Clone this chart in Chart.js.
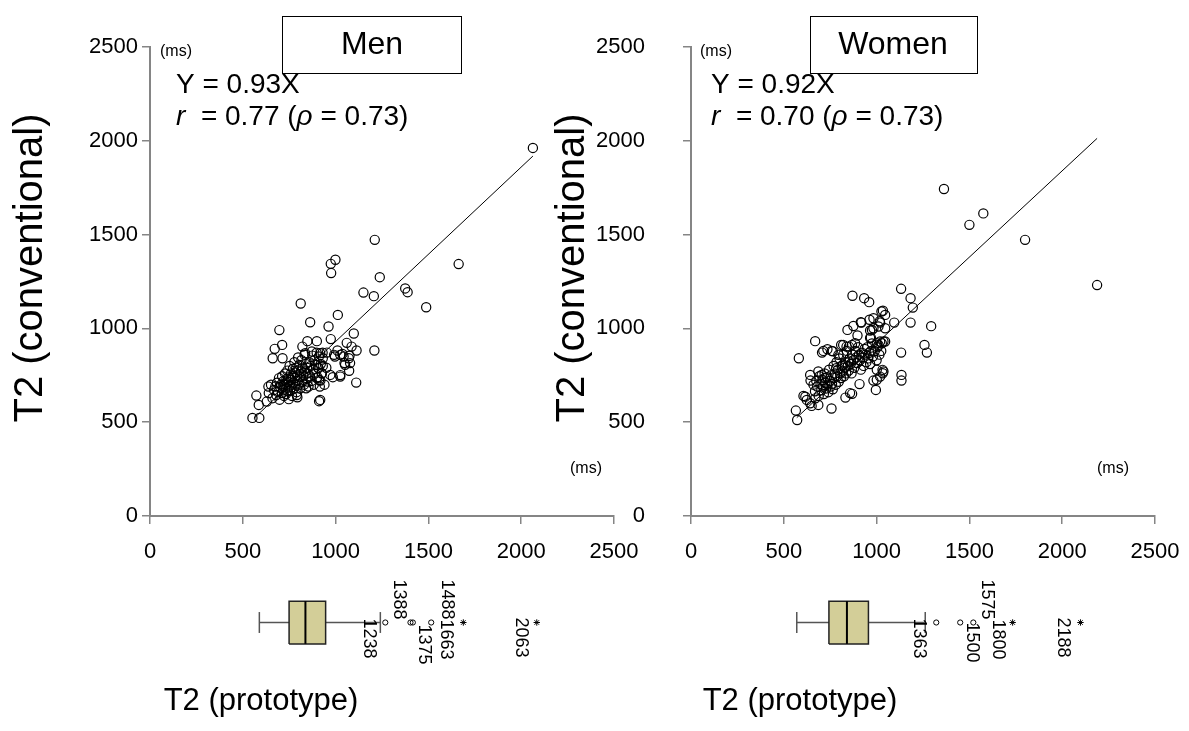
<!DOCTYPE html>
<html>
<head>
<meta charset="utf-8">
<title>T2 prototype vs conventional</title>
<script src="https://cdn.jsdelivr.net/npm/chart.js@4.4.1/dist/chart.umd.min.js"></script>
<style>
  body { margin: 0; background: #fff; }
  #page { position: relative; width: 1189px; height: 731px; overflow: hidden; background: #fff; }
  canvas { position: absolute; }
</style>
</head>
<body>
<div id="page">
  <canvas id="menScatter" width="640" height="580" style="left:0px;top:0px"></canvas>
  <canvas id="womenScatter" width="640" height="580" style="left:540px;top:0px"></canvas>
  <canvas id="menBox" width="469" height="160" style="left:153px;top:570px"></canvas>
  <canvas id="womenBox" width="447" height="160" style="left:693px;top:570px"></canvas>
</div>
<script>
// ---- data (ms) ----
var axisTicks = [0, 500, 1000, 1500, 2000, 2500];

// [prototype, conventional]
var menPoints = [
  [2063,1962],[1211,1472],[999,1366],[974,1344],[976,1295],[1238,1273],[1663,1343],[1375,1213],
  [1388,1193],[1150,1191],[1206,1172],[1488,1113],[812,1133],[863,1033],[1012,1072],[962,1010],
  [697,991],[1098,973],[974,943],[712,912],[672,891],[848,932],[899,932],[821,903],[1060,923],
  [1086,903],[1113,882],[1209,882],[1010,882],[1037,864],[1071,841],[1075,854],[996,850],[953,871],
  [661,841],[714,841],[1048,815],[1073,774],[971,752],[985,740],[1025,751],[1111,711],[911,612],
  [573,642],[586,592],[552,523],[589,523],[794,633],[748,623],[638,690],[931,800],[931,841],
  [918,722],[911,725],[848,717],[841,681],[791,645],
  [836,868],[872,877],[917,868],[992,859],[1025,859],[1043,850],[1051,806],[1078,815],[1025,743],
  [917,619],[629,610],[899,735],[926,761],[908,788],
  [640,655],[652,700],[660,628],[668,672],[675,690],[680,645],[684,710],[690,660],[695,735],[698,620],
  [702,685],[706,700],[710,655],[712,745],[715,690],[718,670],[720,720],[722,640],[725,705],[728,760],
  [730,680],[733,650],[735,730],[738,700],[740,775],[742,665],[745,715],[748,690],[750,740],[752,800],
  [755,670],[758,725],[760,760],[762,700],[765,640],[768,745],[770,785],[772,710],[775,680],[778,820],
  [780,735],[782,765],[785,700],[788,790],[790,660],[792,750],[795,720],[798,845],[800,775],[803,700],
  [806,805],[808,740],[810,680],[813,770],[816,830],[820,715],[823,790],[826,750],[830,700],[833,860],
  [836,770],[840,810],[843,735],[846,790],[850,760],[854,690],[858,820],[862,745],[866,800],[870,720],
  [874,855],[878,780],[882,700],[886,830],[890,760],[894,805],[898,870],[902,740],[906,790],[910,850],
  [915,690],[920,810],[925,760],[930,870],[940,700],[950,790]
];

var womenPoints = [
  [1363,1743],[1575,1613],[1500,1552],[1800,1472],[2188,1231],[1132,1211],[1183,1161],[1195,1111],
  [870,1174],[933,1161],[960,1140],[1034,1094],[1046,1072],[1183,1031],[1294,1012],[1258,912],
  [1271,871],[1132,871],[1095,1031],[1019,1031],[983,1054],[918,1031],[875,1013],[843,992],[897,962],
  [1046,1001],[983,1001],[975,992],[969,951],[1037,930],[1019,930],[1001,921],[884,921],[838,903],
  [820,912],[1134,752],[1134,722],[581,841],[669,932],[565,562],[572,512],[757,573],[996,672],
  [908,703],[868,651],[832,631],[983,722],[1032,779],[1033,761],[1019,743],[1001,779],[1026,1090],
  [915,1033],[962,1046],[1017,1038],[965,989],[965,949],[809,912],[851,903],[735,889],[764,878],
  [706,871],[642,752],[644,722],[616,636],[670,627],[686,592],[650,587],[1010,1010],[1046,930],
  [1028,921],[1010,912],[1037,770],[1001,726],[857,655],[713,880],[758,880],[794,859],[867,912],
  [782,788],[818,806],[853,823],[686,770],[704,752],[722,735],[606,640],[624,619],[642,601],
  [660,700],[668,665],[675,720],[680,690],[688,640],[692,745],[698,705],[702,670],[708,725],[712,690],
  [716,650],[720,760],[724,710],[728,680],[732,740],[736,700],[740,660],[744,780],[748,720],[752,690],
  [756,750],[760,705],[764,675],[768,800],[772,735],[776,760],[780,700],[784,820],[788,745],[792,780],
  [796,715],[800,840],[804,760],[808,735],[812,800],[816,770],[820,860],[824,745],[828,790],[832,820],
  [836,760],[840,880],[845,800],[850,775],[855,840],[860,810],[865,760],[870,860],[875,830],[880,790],
  [885,880],[890,845],[895,815],[900,900],[905,860],[910,830],[915,780],[920,870],[925,845],[930,800],
  [935,890],[940,860],[945,820],[950,900],[955,840],[960,870],[965,810],[970,880],[975,920],[980,850],
  [990,880],[1000,830],[1005,900],[1015,860],[1025,880]
];

// fitted slopes (through origin) and the x range the fit line covers
var menSlope = 0.93;
var womenSlope = 0.92;
var menFitRange = [560, 2063];
var womenFitRange = [570, 2188];

// box plot of the prototype values: whisker low, Q1, median, Q3, whisker high
var menBoxStats = [552, 714, 803, 913, 1211];
var womenBoxStats = [565, 749, 852, 975, 1300];
var menOutliers = [1238, 1375, 1388, 1488];
var menExtremes = [1663, 2063];
var womenOutliers = [1363, 1500, 1575];
var womenExtremes = [1800, 2188];

// ---- look ----
var FONT = "'Liberation Sans', Arial, Helvetica, sans-serif";
var AXIS_GREY = '#858585';
var BOX_FILL = '#d3ce98';

Chart.defaults.font.family = FONT;
Chart.defaults.color = '#000';

// Free text, frames and mixed italic strings placed relative to the chart area
var panelText = {
    id: 'panelText',
    afterDraw: function(chart, args, opts) {
        var ctx  = chart.ctx;
        var area = chart.chartArea;
        ctx.save();
        ctx.fillStyle = '#000';
        ctx.strokeStyle = '#000';
        ctx.lineWidth = 1;
        ctx.textBaseline = 'middle';

        (opts.frames || []).forEach(function(f) {
            ctx.strokeRect(Math.round(area.left + f.x) + 0.5, Math.round(area.top + f.y) + 0.5, f.w, f.h);
        });

        (opts.items || []).forEach(function(it) {
            var parts = it.parts || [[it.text, false]];
            var total = 0;
            parts.forEach(function(p) {
                ctx.font = (p[1] ? 'italic ' : '') + it.size + 'px ' + FONT;
                total += ctx.measureText(p[0]).width;
            });
            ctx.save();
            ctx.translate(area.left + it.x, area.top + it.y);
            if (it.rotate) ctx.rotate(it.rotate * Math.PI / 180);
            var x = it.align === 'center' ? -total / 2 : 0;
            ctx.textAlign = 'left';
            parts.forEach(function(p) {
                ctx.font = (p[1] ? 'italic ' : '') + it.size + 'px ' + FONT;
                ctx.fillText(p[0], x, 0);
                x += ctx.measureText(p[0]).width;
            });
            ctx.restore();
        });
        ctx.restore();
    }
};

// Rotated value labels next to the box plot outliers, plus the axis caption
var boxLabels = {
    id: 'boxLabels',
    afterDraw: function(chart, args, opts) {
        var ctx = chart.ctx;
        var xs = chart.scales.x, ys = chart.scales.y;
        var cy = ys.getPixelForValue(0);
        ctx.save();
        ctx.fillStyle = '#000';
        ctx.textAlign = 'center';
        ctx.textBaseline = 'middle';
        ctx.font = '18px ' + FONT;
        opts.labels.forEach(function(l) {
            ctx.save();
            ctx.translate(xs.getPixelForValue(l.value) + l.dx, cy + l.dy);
            ctx.rotate(Math.PI / 2);
            ctx.fillText(String(l.value), 0, 0);
            ctx.restore();
        });
        ctx.font = '31px ' + FONT;
        ctx.fillText(opts.caption, opts.captionX, opts.captionY);
        ctx.restore();
    }
};

function plainTick(v) { return String(v); }

function noScalePadding(s) {
    s.paddingLeft = 0; s.paddingRight = 0; s.paddingTop = 0; s.paddingBottom = 0;
}

function scatterConfig(points, slope, fitRange, yAxisWidth, padRight, tickPad, text) {
    var fitLine = fitRange.map(function(x) { return { x: x, y: slope * x }; });
    return {
        type: 'scatter',
        data: {
            datasets: [
                {
                    data: fitLine,
                    showLine: true,
                    borderColor: '#000',
                    borderWidth: 1,
                    pointRadius: 0,
                    pointHoverRadius: 0
                },
                {
                    data: points.map(function(p) { return { x: p[0], y: p[1] }; }),
                    pointRadius: 4.6,
                    pointHoverRadius: 4.6,
                    pointBorderColor: '#000',
                    pointBorderWidth: 1.2,
                    pointBackgroundColor: 'rgba(0,0,0,0)'
                }
            ]
        },
        options: {
            responsive: false,
            animation: false,
            devicePixelRatio: 1,
            events: [],
            layout: { padding: { left: 0, top: 47, right: padRight, bottom: 0 } },
            plugins: {
                legend: { display: false },
                tooltip: { enabled: false },
                panelText: text
            },
            scales: {
                x: {
                    type: 'linear',
                    min: 0, max: 2500,
                    afterBuildTicks: function(s) { s.ticks = axisTicks.map(function(v) { return { value: v }; }); },
                    afterFit: function(s) { s.height = 64; noScalePadding(s); },
                    grid: { drawOnChartArea: false, drawTicks: true, tickLength: 8, color: AXIS_GREY, lineWidth: 1.5 },
                    border: { display: true, color: AXIS_GREY, width: 2 },
                    ticks: { font: { size: 22 }, color: '#000', padding: 15, maxRotation: 0, autoSkip: false, callback: plainTick }
                },
                y: {
                    type: 'linear',
                    min: 0, max: 2500,
                    afterBuildTicks: function(s) { s.ticks = axisTicks.map(function(v) { return { value: v }; }); },
                    afterFit: function(s) { s.width = yAxisWidth; noScalePadding(s); },
                    grid: { drawOnChartArea: false, drawTicks: true, tickLength: 8, color: AXIS_GREY, lineWidth: 1.5 },
                    border: { display: true, color: AXIS_GREY, width: 2 },
                    ticks: { font: { size: 22 }, color: '#000', padding: tickPad, autoSkip: false, callback: plainTick }
                }
            }
        },
        plugins: [panelText]
    };
}

function boxConfig(stats, outliers, extremes, labels, captionX) {
    var lo = stats[0], q1 = stats[1], med = stats[2], q3 = stats[3], hi = stats[4];
    var H = 0.45, C = 0.22;
    function seg(pts, color, width) {
        return {
            data: pts.map(function(p) { return { x: p[0], y: p[1] }; }),
            showLine: true, borderColor: color, borderWidth: width,
            pointRadius: 0, pointHoverRadius: 0, clip: false
        };
    }
    var fill = seg([[q1, H], [q3, H]], 'rgba(0,0,0,0)', 0);
    fill.fill = { target: { value: -H } };
    fill.backgroundColor = BOX_FILL;
    fill.order = 10;

    return {
        type: 'scatter',
        data: {
            datasets: [
                {
                    data: outliers.map(function(v) { return { x: v, y: 0 }; }),
                    pointStyle: 'circle', pointRadius: 2.6, pointBorderWidth: 1,
                    pointBorderColor: '#000', pointBackgroundColor: 'rgba(0,0,0,0)', clip: false
                },
                {
                    data: extremes.map(function(v) { return { x: v, y: 0 }; }),
                    pointStyle: 'star', pointRadius: 3.2, pointBorderWidth: 1,
                    pointBorderColor: '#000', clip: false
                },
                seg([[med, -H], [med, H]], '#000', 2),
                seg([[q1, -H], [q3, -H], [q3, H], [q1, H], [q1, -H]], '#222', 1.5),
                seg([[lo, 0], [q1, 0]], '#555', 1.5),
                seg([[q3, 0], [hi, 0]], '#555', 1.5),
                seg([[lo, -C], [lo, C]], '#555', 1.5),
                seg([[hi, -C], [hi, C]], '#555', 1.5),
                fill
            ]
        },
        options: {
            responsive: false,
            animation: false,
            devicePixelRatio: 1,
            events: [],
            layout: { padding: { left: 0, top: 0, right: 0, bottom: 60 } },
            plugins: {
                legend: { display: false },
                tooltip: { enabled: false },
                boxLabels: { labels: labels, caption: 'T2 (prototype)', captionX: captionX, captionY: 131 }
            },
            scales: {
                x: { type: 'linear', min: 0, max: 2500, display: false },
                y: { type: 'linear', min: -1, max: 1, display: false }
            }
        },
        plugins: [boxLabels]
    };
}

// ---- left panel: men ----
new Chart(document.getElementById('menScatter'), scatterConfig(
    menPoints, menSlope, menFitRange, 150, 26, 4,
    {
        frames: [{ x: 132, y: -31, w: 179, h: 57 }],
        items: [
            { text: 'T2 (conventional)', x: -119, y: 221, size: 40, align: 'center', rotate: -90 },
            { text: '(ms)', x: 10, y: 5, size: 16 },
            { text: 'Men', x: 222, y: -2, size: 32, align: 'center' },
            { text: 'Y = 0.93X', x: 26, y: 38, size: 28 },
            { parts: [['r', true], ['  = 0.77 (', false], ['\u03c1', true], [' = 0.73)', false]], x: 26, y: 70, size: 28 },
            { text: '(ms)', x: 420, y: 422, size: 16 }
        ]
    }
));

// ---- right panel: women ----
new Chart(document.getElementById('womenScatter'), scatterConfig(
    womenPoints, womenSlope, womenFitRange, 151, 25, 38,
    {
        frames: [{ x: 119, y: -31, w: 167, h: 57 }],
        items: [
            { text: 'T2 (conventional)', x: -118, y: 221, size: 40, align: 'center', rotate: -90 },
            { text: '(ms)', x: 9, y: 5, size: 16 },
            { text: 'Women', x: 202, y: -2, size: 32, align: 'center' },
            { text: 'Y = 0.92X', x: 20, y: 38, size: 28 },
            { parts: [['r', true], ['  = 0.70 (', false], ['\u03c1', true], [' = 0.73)', false]], x: 20, y: 70, size: 28 },
            { text: '(ms)', x: 406, y: 422, size: 16 }
        ]
    }
));

// ---- box plots of the prototype values ----
new Chart(document.getElementById('menBox'), boxConfig(
    menBoxStats, menOutliers, menExtremes,
    [
        { value: 1238, dx: -16, dy: 16 },
        { value: 1375, dx: 14, dy: 22 },
        { value: 1388, dx: -14, dy: -23 },
        { value: 1488, dx: 16, dy: -23 },
        { value: 1663, dx: -17, dy: 17 },
        { value: 2063, dx: -16, dy: 15 }
    ],
    108
));

new Chart(document.getElementById('womenBox'), boxConfig(
    womenBoxStats, womenOutliers, womenExtremes,
    [
        { value: 1363, dx: -17, dy: 16 },
        { value: 1500, dx: 12, dy: 20 },
        { value: 1575, dx: 14, dy: -23 },
        { value: 1800, dx: -15, dy: 17 },
        { value: 2188, dx: -17, dy: 15 }
    ],
    107
));
</script>
</body>
</html>
